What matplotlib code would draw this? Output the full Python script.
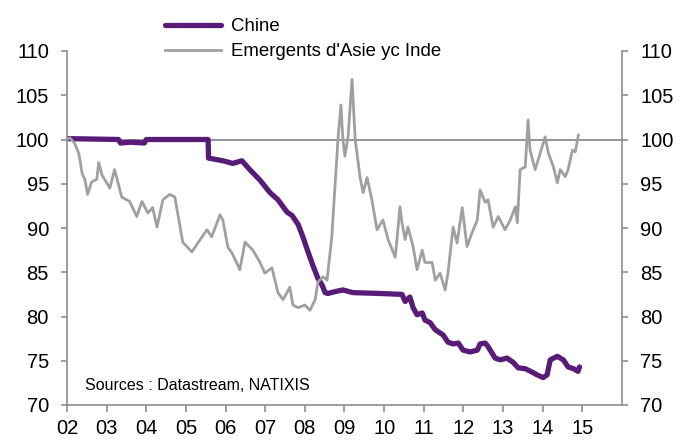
import matplotlib
matplotlib.use("Agg")
import matplotlib.pyplot as plt

plt.rcParams["font.family"] = ["Liberation Sans", "DejaVu Sans"]

# Chine (decimal year, index)
chine_t = [2002.00, 2003.30, 2003.35, 2003.60, 2003.95, 2004.00, 2005.56, 2005.57,
           2005.93, 2006.18, 2006.41, 2006.61, 2006.87, 2007.12, 2007.32, 2007.55,
           2007.68, 2007.83, 2007.95, 2008.08, 2008.20, 2008.33, 2008.43, 2008.51,
           2008.58, 2008.75, 2008.96, 2009.21, 2009.90, 2010.45, 2010.53, 2010.65,
           2010.73, 2010.83, 2010.96, 2011.03, 2011.16, 2011.29, 2011.49, 2011.61,
           2011.74, 2011.87, 2011.99, 2012.17, 2012.35, 2012.42, 2012.55, 2012.62,
           2012.80, 2012.93, 2013.10, 2013.26, 2013.38, 2013.56, 2013.74, 2013.86,
           2014.01, 2014.11, 2014.19, 2014.37, 2014.52, 2014.64, 2014.78, 2014.89,
           2014.93]
chine_v = [100.1, 100.0, 99.6, 99.7, 99.6, 100.0, 100.0, 97.9,
           97.6, 97.3, 97.6, 96.6, 95.4, 94.0, 93.2, 91.8,
           91.4, 90.4, 89.0, 87.3, 85.8, 84.3, 83.6, 82.7,
           82.6, 82.8, 83.0, 82.7, 82.6, 82.5, 81.7, 82.2,
           81.0, 80.2, 80.4, 79.6, 79.3, 78.5, 77.9, 77.1,
           76.9, 77.0, 76.2, 76.0, 76.2, 76.9, 77.0, 76.6,
           75.3, 75.1, 75.3, 74.8, 74.2, 74.1, 73.7, 73.4,
           73.1, 73.4, 75.1, 75.5, 75.1, 74.3, 74.1, 73.8,
           74.3]

# Emergents d'Asie yc Inde
asie_t = [2002.00, 2002.07, 2002.19, 2002.30, 2002.38, 2002.45, 2002.52, 2002.62,
          2002.75, 2002.80, 2002.88, 2003.08, 2003.20, 2003.38, 2003.58, 2003.76,
          2003.89, 2004.04, 2004.16, 2004.27, 2004.42, 2004.59, 2004.72, 2004.92,
          2005.15, 2005.30, 2005.53, 2005.65, 2005.86, 2005.93, 2006.06, 2006.16,
          2006.36, 2006.49, 2006.69, 2006.87, 2006.99, 2007.17, 2007.32, 2007.45,
          2007.62, 2007.70, 2007.83, 2008.00, 2008.13, 2008.26, 2008.33, 2008.46,
          2008.56, 2008.68, 2008.76, 2008.84, 2008.91, 2008.96, 2009.01, 2009.09,
          2009.19, 2009.27, 2009.39, 2009.47, 2009.57, 2009.69, 2009.82, 2009.97,
          2010.10, 2010.28, 2010.40, 2010.45, 2010.53, 2010.60, 2010.73, 2010.83,
          2010.96, 2011.03, 2011.21, 2011.29, 2011.41, 2011.54, 2011.61, 2011.74,
          2011.84, 2011.97, 2012.09, 2012.22, 2012.35, 2012.42, 2012.55, 2012.62,
          2012.75, 2012.88, 2013.05, 2013.18, 2013.31, 2013.36, 2013.43, 2013.56,
          2013.63, 2013.68, 2013.81, 2013.94, 2014.06, 2014.14, 2014.27, 2014.37,
          2014.44, 2014.57, 2014.64, 2014.75, 2014.82, 2014.90]
asie_v = [100.0, 100.2, 99.6, 98.4, 96.2, 95.5, 93.8, 95.2,
          95.5, 97.4, 96.0, 94.5, 96.6, 93.5, 93.0, 91.3,
          93.0, 91.7, 92.3, 90.1, 93.2, 93.8, 93.5, 88.4,
          87.3, 88.3, 89.8, 89.0, 91.5, 90.9, 87.8, 87.2,
          85.3, 88.4, 87.5, 86.1, 84.9, 85.5, 82.7, 81.9,
          83.3, 81.3, 81.0, 81.3, 80.7, 81.9, 83.9, 84.5,
          84.1, 89.0, 94.7, 100.3, 103.9, 100.0, 98.1, 100.3,
          106.8, 100.0, 95.8, 94.0, 95.7, 93.2, 89.8, 90.9,
          88.7, 86.7, 92.4, 90.6, 88.7, 90.1, 87.9, 85.3,
          87.5, 86.1, 86.1, 84.1, 84.9, 83.0, 84.9, 90.1,
          88.3, 92.3, 87.9, 89.5, 90.9, 94.3, 92.9, 93.2,
          90.1, 91.3, 89.8, 90.9, 92.4, 90.6, 96.6, 96.9,
          102.2, 98.8, 96.6, 98.5, 100.3, 98.5, 96.9, 95.1,
          96.6, 95.8, 96.6, 98.8, 98.6, 100.5]

years = list(range(2002, 2016))
year_labels = [f"{y % 100:02d}" for y in years]
y_ticks = [70, 75, 80, 85, 90, 95, 100, 105, 110]

purple = "#581C78"
grey_line = "#A0A0A0"
axis_grey = "#8E8E8E"

fig = plt.figure(figsize=(6.91, 4.43), dpi=100)
ax = fig.add_axes([67 / 691, 1 - 405 / 443, 555 / 691, 354 / 443])

ax.axhline(100, color=axis_grey, lw=1.3, zorder=1)
ax.plot(chine_t, chine_v, color=purple, lw=3.8, label="Chine",
        solid_capstyle="round", zorder=2)
ax.plot(asie_t, asie_v, color=grey_line, lw=2.0,
        label="Emergents d'Asie yc Inde", zorder=3)

ax.set_xlim(2002, 2016)
ax.set_ylim(70, 110)
ax.set_xticks(years)
ax.set_xticklabels(year_labels)
ax.set_yticks(y_ticks)

for side in ["left", "right", "bottom"]:
    ax.spines[side].set_color(axis_grey)
    ax.spines[side].set_linewidth(1.2)
ax.spines["top"].set_visible(False)

ax.tick_params(axis="y", direction="out", length=4, width=1.2, color=axis_grey,
               labelsize=14.5, pad=9, right=True, labelright=True)
ax.tick_params(axis="x", direction="out", length=5, width=1.2, color=axis_grey,
               labelsize=14.5, pad=5)

ax.text(0.032, 0.056, "Sources : Datastream, NATIXIS", transform=ax.transAxes,
        fontsize=11.5, va="center", ha="left")

fig.legend(loc="upper left", bbox_to_anchor=(165 / 691, 1 - 18 / 443),
           frameon=False, fontsize=13.4, handlelength=3.0, handletextpad=0.55,
           labelspacing=0.45, borderpad=0, borderaxespad=0)

fig.savefig("out.png", dpi=100)
